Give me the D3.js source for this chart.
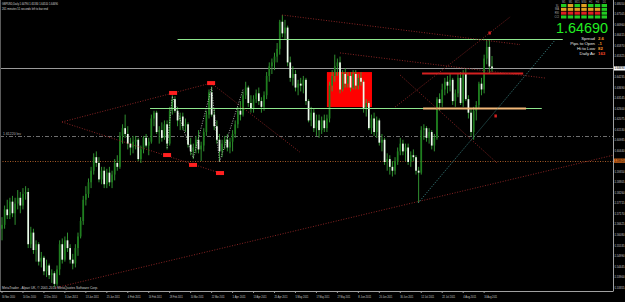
<!DOCTYPE html>
<html><head><meta charset="utf-8">
<script src="https://cdn.jsdelivr.net/npm/d3@7"></script>
<style>html,body{margin:0;padding:0;background:#000;overflow:hidden}</style>
</head><body>
<svg id="c" width="625" height="302"></svg>
<script>
// ---------- DATA ----------
const ohlc = [
[1.5640,1.5700,1.5580,1.5660],[1.5660,1.5760,1.5640,1.5740],[1.5740,1.5790,1.5690,1.5710],[1.5710,1.5800,1.5690,1.5780],
[1.5780,1.5810,1.5700,1.5720],[1.5720,1.5800,1.5660,1.5770],[1.5770,1.5840,1.5740,1.5800],[1.5800,1.5830,1.5720,1.5760],
[1.5760,1.5850,1.5740,1.5820],[1.5820,1.5860,1.5790,1.5830],[1.5830,1.5850,1.5540,1.5560],[1.5560,1.5650,1.5540,1.5620],
[1.5620,1.5640,1.5510,1.5530],[1.5530,1.5580,1.5470,1.5560],[1.5560,1.5570,1.5450,1.5470],[1.5470,1.5520,1.5440,1.5490],
[1.5490,1.5500,1.5400,1.5420],[1.5420,1.5480,1.5390,1.5450],[1.5450,1.5460,1.5380,1.5400],[1.5400,1.5430,1.5360,1.5410],
[1.5410,1.5420,1.5340,1.5355],[1.5355,1.5450,1.5345,1.5430],[1.5430,1.5580,1.5400,1.5560],[1.5560,1.5590,1.5460,1.5480],
[1.5480,1.5600,1.5470,1.5580],[1.5580,1.5620,1.5520,1.5540],[1.5540,1.5560,1.5460,1.5480],[1.5480,1.5510,1.5430,1.5460],
[1.5460,1.5560,1.5440,1.5540],[1.5540,1.5620,1.5500,1.5600],[1.5600,1.5700,1.5590,1.5680],[1.5680,1.5810,1.5660,1.5790],
[1.5790,1.5860,1.5760,1.5820],[1.5820,1.5900,1.5800,1.5880],[1.5880,1.5960,1.5850,1.5940],[1.5940,1.6030,1.5920,1.6010],
[1.6010,1.6040,1.5960,1.5980],[1.5980,1.6010,1.5880,1.5895],[1.5895,1.5960,1.5870,1.5940],[1.5940,1.5960,1.5850,1.5870],
[1.5870,1.5950,1.5850,1.5930],[1.5930,1.5960,1.5860,1.5880],[1.5880,1.5940,1.5850,1.5920],[1.5920,1.6000,1.5890,1.5980],
[1.5980,1.6020,1.5940,1.5960],[1.5960,1.6140,1.5950,1.6120],[1.6120,1.6180,1.6080,1.6160],[1.6160,1.6230,1.6110,1.6130],
[1.6130,1.6170,1.6050,1.6080],[1.6080,1.6110,1.6020,1.6060],[1.6060,1.6120,1.6030,1.6090],[1.6090,1.6120,1.6050,1.6100],
[1.6100,1.6110,1.5990,1.6000],[1.6000,1.6070,1.5980,1.6050],[1.6050,1.6120,1.6030,1.6110],[1.6110,1.6130,1.6060,1.6070],
[1.6070,1.6110,1.6020,1.6090],[1.6090,1.6230,1.6080,1.6210],[1.6210,1.6250,1.6170,1.6240],[1.6240,1.6250,1.6130,1.6140],
[1.6140,1.6170,1.6080,1.6150],[1.6150,1.6190,1.6090,1.6110],[1.6110,1.6200,1.6100,1.6180],[1.6180,1.6200,1.6050,1.6080],
[1.6080,1.6270,1.6070,1.6250],[1.6250,1.6330,1.6230,1.6310],[1.6310,1.6325,1.6240,1.6250],[1.6250,1.6270,1.6170,1.6200],
[1.6200,1.6240,1.6150,1.6220],[1.6220,1.6240,1.6150,1.6170],[1.6170,1.6210,1.6140,1.6180],[1.6180,1.6190,1.6060,1.6075],
[1.6075,1.6110,1.6020,1.6040],[1.6040,1.6080,1.6000,1.6060],[1.6060,1.6120,1.6030,1.6100],[1.6100,1.6150,1.6030,1.6050],
[1.6050,1.6090,1.5990,1.6070],[1.6070,1.6160,1.6040,1.6140],[1.6140,1.6250,1.6120,1.6230],[1.6230,1.6360,1.6210,1.6345],
[1.6345,1.6375,1.6220,1.6230],[1.6230,1.6260,1.6150,1.6170],[1.6170,1.6200,1.6080,1.6100],[1.6100,1.6130,1.5990,1.6040],
[1.6040,1.6100,1.6010,1.6080],[1.6080,1.6120,1.6050,1.6100],[1.6100,1.6130,1.6040,1.6060],[1.6060,1.6110,1.6030,1.6090],
[1.6090,1.6150,1.6040,1.6130],[1.6130,1.6200,1.6110,1.6180],[1.6180,1.6270,1.6160,1.6250],[1.6250,1.6300,1.6200,1.6230],
[1.6230,1.6350,1.6220,1.6330],[1.6330,1.6400,1.6310,1.6370],[1.6370,1.6380,1.6270,1.6290],[1.6290,1.6330,1.6240,1.6260],
[1.6260,1.6330,1.6240,1.6310],[1.6310,1.6360,1.6290,1.6340],[1.6340,1.6370,1.6280,1.6300],[1.6300,1.6320,1.6240,1.6270],
[1.6270,1.6350,1.6250,1.6330],[1.6330,1.6450,1.6310,1.6430],[1.6430,1.6500,1.6400,1.6480],[1.6480,1.6520,1.6440,1.6500],
[1.6500,1.6550,1.6460,1.6530],[1.6530,1.6600,1.6500,1.6570],[1.6570,1.6720,1.6540,1.6710],[1.6710,1.6745,1.6630,1.6650],
[1.6650,1.6720,1.6620,1.6680],[1.6680,1.6690,1.6480,1.6500],[1.6500,1.6530,1.6400,1.6420],[1.6420,1.6480,1.6380,1.6440],
[1.6440,1.6460,1.6350,1.6370],[1.6370,1.6410,1.6330,1.6390],[1.6390,1.6420,1.6350,1.6380],[1.6380,1.6430,1.6340,1.6410],
[1.6410,1.6420,1.6280,1.6300],[1.6300,1.6310,1.6190,1.6200],[1.6200,1.6270,1.6170,1.6240],[1.6240,1.6260,1.6140,1.6160],
[1.6160,1.6230,1.6120,1.6200],[1.6200,1.6230,1.6110,1.6150],[1.6150,1.6220,1.6130,1.6200],[1.6200,1.6230,1.6140,1.6160],
[1.6160,1.6230,1.6140,1.6210],[1.6210,1.6400,1.6190,1.6380],[1.6380,1.6460,1.6350,1.6430],[1.6430,1.6540,1.6400,1.6480],
[1.6480,1.6520,1.6430,1.6500],[1.6500,1.6530,1.6340,1.6360],[1.6360,1.6460,1.6350,1.6440],[1.6440,1.6470,1.6370,1.6390],
[1.6390,1.6450,1.6370,1.6430],[1.6430,1.6450,1.6350,1.6370],[1.6370,1.6460,1.6360,1.6440],[1.6440,1.6460,1.6360,1.6380],
[1.6380,1.6440,1.6360,1.6420],[1.6420,1.6450,1.6380,1.6400],[1.6400,1.6410,1.6240,1.6260],[1.6260,1.6310,1.6220,1.6290],
[1.6290,1.6300,1.6150,1.6160],[1.6160,1.6230,1.6130,1.6210],[1.6210,1.6240,1.6120,1.6140],[1.6140,1.6220,1.6110,1.6200],
[1.6200,1.6210,1.6070,1.6085],[1.6085,1.6130,1.6040,1.6100],[1.6100,1.6110,1.5970,1.5985],[1.5985,1.6030,1.5940,1.6000],
[1.6000,1.6020,1.5920,1.5960],[1.5960,1.5990,1.5910,1.5940],[1.5940,1.6010,1.5920,1.5990],[1.5990,1.6060,1.5970,1.6040],
[1.6040,1.6110,1.6020,1.6080],[1.6080,1.6100,1.6020,1.6040],[1.6040,1.6080,1.5990,1.6060],[1.6060,1.6080,1.5970,1.5985],
[1.5985,1.6040,1.5960,1.6020],[1.6020,1.6050,1.5990,1.6010],[1.6010,1.6020,1.5920,1.5940],[1.5940,1.5960,1.5775,1.5930],
[1.5930,1.6170,1.5920,1.6150],[1.6150,1.6180,1.6100,1.6160],[1.6160,1.6170,1.6090,1.6110],[1.6110,1.6160,1.6080,1.6140],
[1.6140,1.6150,1.6050,1.6070],[1.6070,1.6130,1.6040,1.6110],[1.6110,1.6320,1.6100,1.6310],[1.6310,1.6340,1.6250,1.6290],
[1.6290,1.6390,1.6270,1.6360],[1.6360,1.6420,1.6330,1.6400],[1.6400,1.6430,1.6340,1.6380],[1.6380,1.6440,1.6350,1.6410],
[1.6410,1.6420,1.6280,1.6300],[1.6300,1.6360,1.6270,1.6340],[1.6340,1.6440,1.6320,1.6420],[1.6420,1.6450,1.6280,1.6290],
[1.6290,1.6460,1.6270,1.6440],[1.6440,1.6465,1.6300,1.6310],[1.6310,1.6330,1.6210,1.6240],[1.6240,1.6260,1.6120,1.6140],
[1.6140,1.6270,1.6100,1.6250],[1.6250,1.6300,1.6200,1.6280],[1.6280,1.6400,1.6260,1.6390],[1.6390,1.6420,1.6330,1.6360],
[1.6360,1.6540,1.6340,1.6520],[1.6520,1.6615,1.6490,1.6580],[1.6580,1.6618,1.6445,1.6479],[1.6479,1.6533,1.6451,1.6469]
];
const dateTicks = ["30 Nov 2010","10 Dec 2010","22 Dec 2010","3 Jan 2011","13 Jan 2011","25 Jan 2011","4 Feb 2011",
  "16 Feb 2011","28 Feb 2011","10 Mar 2011","22 Mar 2011","1 Apr 2011","13 Apr 2011","25 Apr 2011","5 May 2011",
  "17 May 2011","27 May 2011","8 Jun 2011","20 Jun 2011","30 Jun 2011","12 Jul 2011","22 Jul 2011","4 Aug 2011","16 Aug 2011"];
const dateTickStep = 8;
const priceTicks = [1.68050,1.67505,1.66960,1.66415,1.65870,1.65325,1.64780,1.64235,1.63690,1.63145,1.62600,
  1.62075,1.61530,1.60985,1.60440,1.59895,1.59350,1.58805,1.58260,1.57715,1.57170,1.56625,1.56080,1.55535,
  1.54990,1.54445,1.53900,1.53355];
const bidPrice = 1.64690;
const levelLabelPrice = 1.59920;
const header = ["GBPUSD,Daily  1.64790 1.65330 1.64510 1.64690", "261 minutes 51 seconds left to bar end"];
const copyright = "MetaTrader - Alpari UK, \u00a9 2001-2010 MetaQuotes Software Corp.";
// horizontal levels: price, from bar, to bar (null = whole chart), kind
const levels = [
  {p:1.6619, a:67, b:214, kind:"green"},
  {p:1.6263, a:56.5, b:206, kind:"green"},
  {p:1.6444, a:160.3, b:198.9, kind:"red"},
  {p:1.6266, a:160.7, b:200, kind:"orange"},
  {p:1.6122, a:null, b:null, kind:"dashdot"},
  {p:1.5992, a:null, b:null, kind:"dotorange"}
];
// trend lines: [bar1, price1, bar2, price2, kind]
const trends = [
  [20.2,1.5334,233.2,1.6020,"maroon"],
  [22.9,1.6192,79.8,1.6393,"maroon"],
  [22.9,1.6192,83.2,1.5928,"maroon"],
  [79.8,1.6393,113.7,1.6036,"maroon"],
  [106.9,1.6745,197.7,1.6592,"maroon"],
  [129.0,1.6549,207.3,1.6419,"maroon"],
  [151.9,1.6435,188.9,1.5980,"maroon"],
  [150.0,1.6269,193.9,1.6735,"maroon"],
  [158.8,1.5773,211.1,1.6616,"teal"]
];
const zigzag = [[63,1.6057],[65,1.6325],[73,1.6006],[80,1.6370],[83,1.5985],[92,1.6360]];
const markers = [[65.3,1.6342],[79.8,1.6393],[63.0,1.6021],[72.9,1.5970],[83.2,1.5928]];
const smallMarks = [[186,1.6652],[188.3,1.6223]];
const zones = [[124,141.2,1.6450,1.6269]];
const panelPrice = "1.64690";
const infoLabels = ["Spread","Pips to Open","Hi to Low","Daily Av"];
const infoValues = ["2.6","-1","82","163"];
const tfNames = ["M1","M5","M15","M30","H1","H4","D1"];
const rowNames = ["SL","MA","RSI","CCI"];
const tfSignals = [
  [1,0,1,0,1,1,1],
  [0,0,0,0,0,0,1],
  [-1,-1,-1,-1,-1,-1,1],
  [1,1,1,1,1,1,1]
];

// ---------- DRAW ----------
const W = 625, H = 302, plotR = 613, plotB = 291;
const FONT = "Liberation Sans, Arial, sans-serif";
const svg = d3.select("#c");
svg.append("rect").attr("width",W).attr("height",H).attr("fill","#000");
const x = d3.scaleLinear().domain([0, ohlc.length-1]).range([2, 492]);
const y = d3.scaleLinear().domain([1.53181, 1.68226]).range([plotB, 0]);

svg.append("defs").append("clipPath").attr("id","plot").append("rect")
  .attr("x",0).attr("y",0).attr("width",plotR).attr("height",plotB);
const g = svg.append("g").attr("clip-path","url(#plot)");

// zones (background)
g.selectAll("rect.zone").data(zones).join("rect").attr("class","zone")
  .attr("x",d=>x(d[0])).attr("width",d=>x(d[1])-x(d[0]))
  .attr("y",d=>y(d[2])).attr("height",d=>y(d[3])-y(d[2]))
  .attr("fill","#ff0000");

const lvlStyle = {
  green:{stroke:"#8ee68e", w:1, dash:null},
  red:{stroke:"#d42020", w:2.2, dash:null},
  orange:{stroke:"#f2b878", w:2, dash:null},
  dashdot:{stroke:"#6e6e6e", w:1, dash:"4,2,1,2"},
  dotorange:{stroke:"#a45a28", w:1, dash:"1,1.5"}
};
function drawLevels(sel){
  sel.selectAll("line").data(sel.datum()).join("line")
    .attr("x1",d=>d.a===null?0:x(d.a)).attr("x2",d=>d.b===null?plotR:x(d.b))
    .attr("y1",d=>Math.round(y(d.p))+0.5).attr("y2",d=>Math.round(y(d.p))+0.5)
    .attr("stroke",d=>lvlStyle[d.kind].stroke).attr("stroke-width",d=>lvlStyle[d.kind].w)
    .attr("stroke-dasharray",d=>lvlStyle[d.kind].dash);
}
g.append("g").datum(levels.filter(d=>d.kind==="dashdot"||d.kind==="dotorange")).call(drawLevels);

// bid line
g.append("line").attr("x1",0).attr("x2",plotR)
  .attr("y1",Math.round(y(bidPrice))+0.5).attr("y2",Math.round(y(bidPrice))+0.5)
  .attr("stroke","#9a9a9a").attr("stroke-width",1);

// candles
const cg = g.append("g");
cg.selectAll("line.wick").data(ohlc).join("line").attr("class","wick")
  .attr("x1",(d,i)=>x(i)).attr("x2",(d,i)=>x(i))
  .attr("y1",d=>y(d[1])).attr("y2",d=>y(d[2]))
  .attr("stroke","#35a035").attr("stroke-width",0.9);
cg.selectAll("rect.body").data(ohlc).join("rect").attr("class","body")
  .attr("x",(d,i)=>x(i)-0.85).attr("width",1.7)
  .attr("y",d=>y(Math.max(d[0],d[3])))
  .attr("height",d=>Math.max(0.8, Math.abs(y(d[0])-y(d[3]))))
  .attr("fill",d=>d[3]>=d[0]?"#1f7f1f":"#eefcee");

// other levels over candles
g.append("g").datum(levels.filter(d=>d.kind==="green"||d.kind==="red"||d.kind==="orange")).call(drawLevels);

// trend lines
const trStyle = {maroon:"#8a2424", teal:"#3f8f8f"};
g.selectAll("line.tr").data(trends).join("line").attr("class","tr")
  .attr("x1",d=>x(d[0])).attr("y1",d=>y(d[1])).attr("x2",d=>x(d[2])).attr("y2",d=>y(d[3]))
  .attr("stroke",d=>trStyle[d[4]]).attr("stroke-width",1).attr("stroke-dasharray","1,1.6");

// zigzag
g.append("path").datum(zigzag)
  .attr("d",d3.line().x(d=>x(d[0])).y(d=>y(d[1])))
  .attr("fill","none").attr("stroke","#d8d8d8").attr("stroke-width",0.8).attr("stroke-dasharray","1,1.5");

// markers
g.selectAll("rect.mk").data(markers).join("rect").attr("class","mk")
  .attr("x",d=>x(d[0])-4).attr("y",d=>y(d[1])-2).attr("width",8).attr("height",4)
  .attr("fill","#ff2020");
g.selectAll("rect.sm").data(smallMarks).join("rect").attr("class","sm")
  .attr("x",d=>x(d[0])-1).attr("y",d=>y(d[1])-1.5).attr("width",2.5).attr("height",3)
  .attr("fill","#d02020");

// level label
g.append("text").attr("x",3).attr("y",y(1.6122)-1).attr("fill","#bbbbbb")
  .attr("font-family",FONT).attr("font-size",3.4)
  .attr("textLength",18).text("1.61220 lev");

// axes frame
svg.append("line").attr("x1",plotR+0.5).attr("x2",plotR+0.5).attr("y1",0).attr("y2",plotB)
  .attr("stroke","#a0a0a0");
svg.append("line").attr("x1",0).attr("x2",plotR+0.5).attr("y1",plotB+0.5).attr("y2",plotB+0.5)
  .attr("stroke","#a0a0a0");
svg.append("line").attr("x1",0.5).attr("x2",0.5).attr("y1",0).attr("y2",plotB)
  .attr("stroke","#5a5a5a");

// price axis (skip ticks hidden by the bid / level labels)
const shown = priceTicks.filter(p => Math.abs(y(p)-y(bidPrice))>4 && Math.abs(y(p)-y(levelLabelPrice))>4);
const pa = svg.append("g");
pa.selectAll("line").data(priceTicks).join("line")
  .attr("x1",plotR).attr("x2",plotR+1.2).attr("y1",d=>y(d)).attr("y2",d=>y(d)).attr("stroke","#a0a0a0");
pa.selectAll("text").data(shown).join("text")
  .attr("x",plotR+1.4).attr("y",d=>y(d)+1.1).attr("fill","#c8c8c8")
  .attr("font-family",FONT).attr("font-size",2.8)
  .text(d=>d.toFixed(5));
function axisTag(p, fill){
  pa.append("rect").attr("x",plotR+1).attr("y",y(p)-2.1).attr("width",11).attr("height",4.2).attr("fill",fill);
  pa.append("text").attr("x",plotR+1.4).attr("y",y(p)+1.1).attr("fill","#000")
    .attr("font-family",FONT).attr("font-size",2.8).text(p.toFixed(5));
}
axisTag(bidPrice,"#ffffff");
axisTag(levelLabelPrice,"#d2691e");

// date axis
const da = svg.append("g");
da.selectAll("line").data(dateTicks).join("line")
  .attr("x1",(d,k)=>x(k*dateTickStep)).attr("x2",(d,k)=>x(k*dateTickStep))
  .attr("y1",plotB).attr("y2",plotB+2).attr("stroke","#a0a0a0");
da.selectAll("text").data(dateTicks).join("text")
  .attr("x",(d,k)=>x(k*dateTickStep)).attr("y",plotB+7).attr("fill","#c8c8c8")
  .attr("font-family",FONT).attr("font-size",3.4)
  .attr("textLength",13).attr("lengthAdjust","spacingAndGlyphs").text(d=>d);

// header + copyright
svg.selectAll("text.hd").data(header).join("text").attr("class","hd")
  .attr("x",2).attr("y",(d,i)=>5+i*4.5).attr("fill","#d8d8d8")
  .attr("font-family",FONT).attr("font-size",3.4)
  .attr("textLength",(d,i)=>i===0?56:46).attr("lengthAdjust","spacingAndGlyphs").text(d=>d);
svg.append("text").attr("x",2).attr("y",plotB-2.5).attr("fill","#d0d0d0")
  .attr("font-family",FONT).attr("font-size",3.2)
  .attr("textLength",96).attr("lengthAdjust","spacingAndGlyphs").text(copyright);

// top-right panel
const panel = svg.append("g");
const colX = d3.scaleBand().domain(tfNames).range([561,607]).paddingInner(0.2);
const rowY = d3.scaleBand().domain(rowNames).range([4,18.5]).paddingInner(0.2);
panel.selectAll("text.tf").data(tfNames).join("text").attr("class","tf")
  .attr("x",d=>colX(d)+colX.bandwidth()/2).attr("y",3).attr("text-anchor","middle")
  .attr("fill","#aaaaaa").attr("font-family",FONT).attr("font-size",2.6).text(d=>d);
panel.selectAll("text.rn").data(rowNames).join("text").attr("class","rn")
  .attr("x",559).attr("y",d=>rowY(d)+rowY.bandwidth()-0.5).attr("text-anchor","end")
  .attr("fill","#aaaaaa").attr("font-family",FONT).attr("font-size",2.6).text(d=>d);
const sigCol = s => s>0?"#22cc22":(s<0?"#dd2020":"#e0a020");
tfSignals.forEach((row,r)=>{
  panel.selectAll("rect.r"+r).data(row).join("rect").attr("class","r"+r)
    .attr("x",(d,c)=>colX(tfNames[c])).attr("y",rowY(rowNames[r]))
    .attr("width",colX.bandwidth()).attr("height",rowY.bandwidth()).attr("fill",d=>sigCol(d));
});
panel.append("text").attr("x",556).attr("y",32.5).attr("fill","#22ee22")
  .attr("font-family",FONT).attr("font-size",14)
  .attr("textLength",52).attr("lengthAdjust","spacingAndGlyphs").text(panelPrice);
panel.selectAll("text.il").data(infoLabels).join("text").attr("class","il")
  .attr("x",595).attr("y",(d,i)=>39.5+i*5).attr("text-anchor","end").attr("fill","#e8e8e8")
  .attr("font-family",FONT).attr("font-size",4.3).text(d=>d);
panel.selectAll("text.iv").data(infoValues).join("text").attr("class","iv")
  .attr("x",598).attr("y",(d,i)=>39.5+i*5).attr("fill",(d,i)=>i===3?"#ff4a2a":"#ff9a2a")
  .attr("font-family",FONT).attr("font-size",4.3).attr("font-weight","bold").text(d=>d);
</script>
</body></html>
